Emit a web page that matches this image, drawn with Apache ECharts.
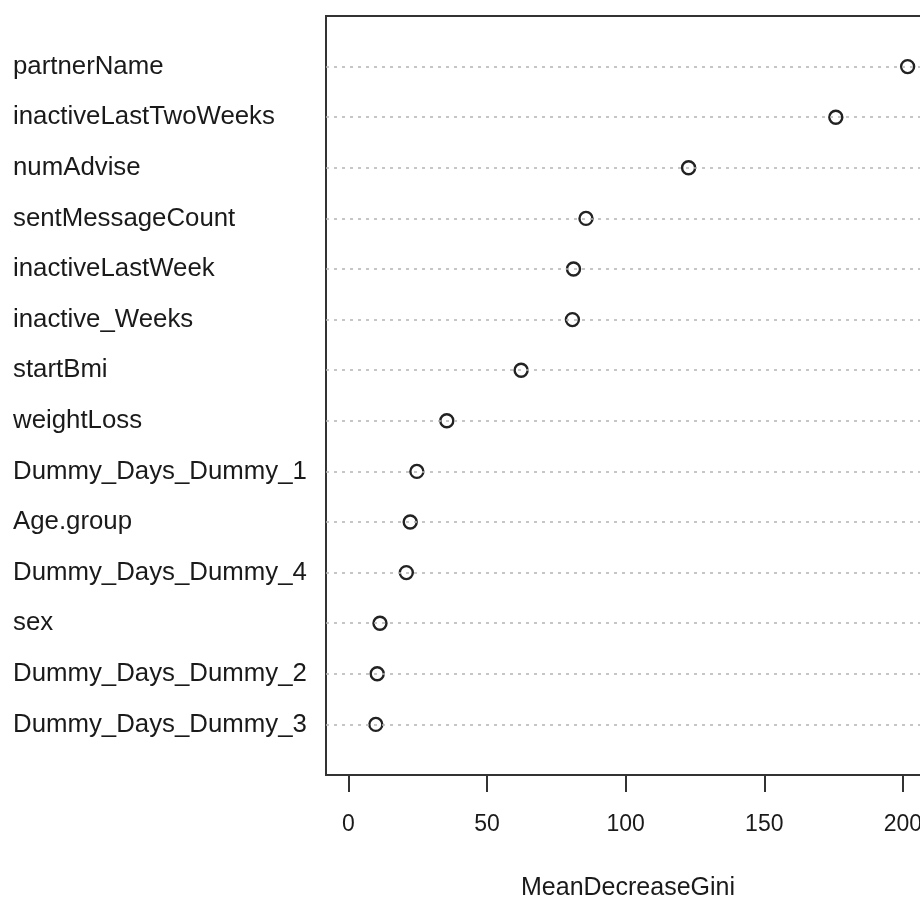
<!DOCTYPE html>
<html>
<head>
<meta charset="utf-8">
<script src="https://cdn.jsdelivr.net/npm/echarts@6/dist/echarts.min.js"></script>
<style>
  html, body { margin: 0; padding: 0; background: #fff; }
  #chart { width: 920px; height: 898px; }
</style>
</head>
<body>
<div id="chart"></div>
<script>
// variable names, top to bottom
var varNames = ['partnerName', 'inactiveLastTwoWeeks', 'numAdvise', 'sentMessageCount',
    'inactiveLastWeek', 'inactive_Weeks', 'startBmi', 'weightLoss', 'Dummy_Days_Dummy_1',
    'Age.group', 'Dummy_Days_Dummy_4', 'sex', 'Dummy_Days_Dummy_2', 'Dummy_Days_Dummy_3'];
// MeanDecreaseGini
var giniValues = [201.7, 175.8, 122.7, 85.7, 81.2, 80.8, 62.3, 35.5, 24.7, 22.3, 20.9, 11.4, 10.4, 9.9];
var xTicks = [0, 50, 100, 150, 200];

var font = '"Liberation Sans", Arial, sans-serif';
var textColor = '#1a1a1a';

// x range like R: 0..max, padded 4%
var xmax = Math.max.apply(null, giniValues);
var pad = xmax * 0.04;

var points = [];
var rowLines = [];
for (var i = 0; i < giniValues.length; i++) {
    points.push([giniValues[i], i + 1]);
    rowLines.push({ yAxis: i + 1 });
}

var chart = echarts.init(document.getElementById('chart'));
var option = {
    backgroundColor: '#fff',
    animation: false,
    grid: {
        left: 326,
        right: -10,
        top: 16,
        bottom: 123,
        containLabel: false,
        outerBoundsMode: 'none',
        show: true,
        borderColor: '#333',
        borderWidth: 2,
        backgroundColor: 'transparent'
    },
    xAxis: {
        type: 'value',
        position: 'bottom',
        min: -pad,
        max: xmax + pad,
        name: 'MeanDecreaseGini',
        nameLocation: 'middle',
        nameGap: 101,
        nameTextStyle: { fontFamily: font, fontSize: 25, color: textColor },
        axisLine: { show: false, onZero: false },
        axisTick: {
            show: true,
            length: 17,
            customValues: xTicks,
            lineStyle: { color: '#333', width: 2 }
        },
        axisLabel: {
            customValues: xTicks,
            margin: 38,
            fontFamily: font,
            fontSize: 23,
            color: textColor
        },
        splitLine: { show: false }
    },
    yAxis: {
        type: 'value',
        min: 0,
        max: 15,
        interval: 1,
        inverse: true,
        axisLine: { show: false, onZero: false },
        axisTick: { show: false },
        splitLine: { show: false },
        axisLabel: {
            align: 'left',
            margin: 313,
            padding: [6, 0, 0, 0],
            fontFamily: font,
            fontSize: 25.8,
            color: textColor,
            formatter: function (v) {
                return varNames[v - 1] || '';
            }
        }
    },
    series: [
        {
            // dotted guide lines
            type: 'scatter',
            data: [],
            z: 1,
            silent: true,
            markLine: {
                silent: true,
                symbol: 'none',
                label: { show: false },
                lineStyle: { type: [3, 5], color: '#b4b4b4', width: 1.5 },
                data: rowLines
            }
        },
        {
            type: 'scatter',
            z: 3,
            symbol: 'circle',
            symbolSize: 13,
            itemStyle: { color: '#fff', borderColor: '#222', borderWidth: 2.4, opacity: 1 },
            data: points
        }
    ]
};
chart.setOption(option);
</script>
</body>
</html>
